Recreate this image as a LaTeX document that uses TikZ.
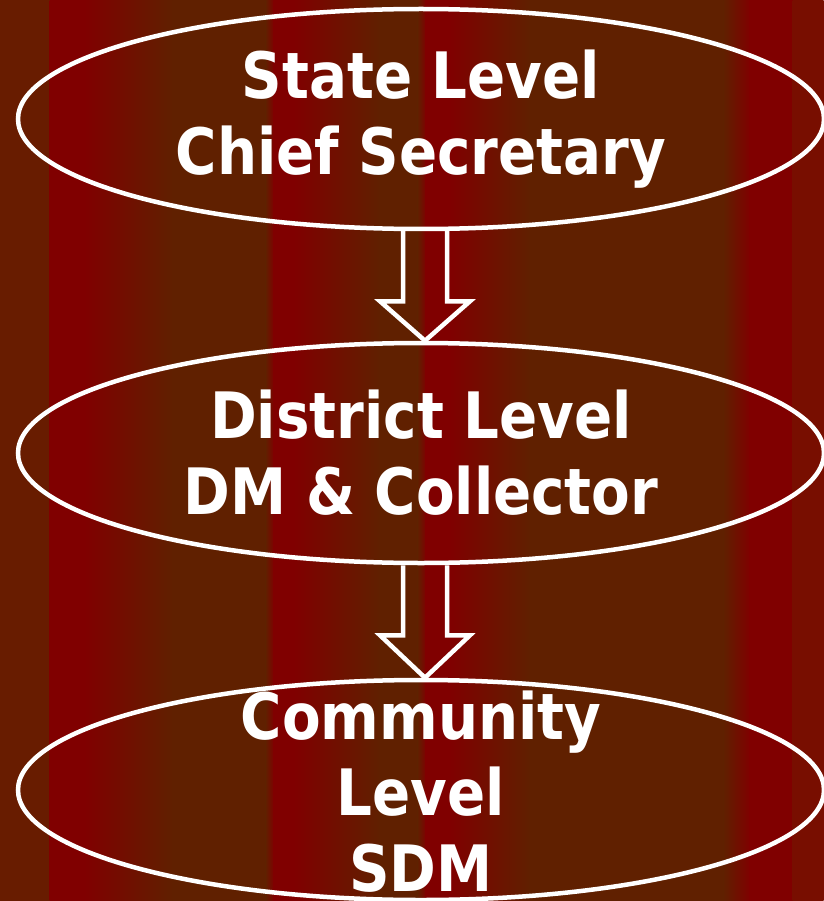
\documentclass[tikz,border=0pt]{standalone}
\usepackage{fontspec}
\setmainfont{DejaVu Sans}[FakeStretch=0.88]
\usetikzlibrary{shapes.geometric,calc}

\definecolor{bgred}{RGB}{128,0,0}
\definecolor{bgbrown}{RGB}{96,32,0}
\definecolor{bgleft}{RGB}{104,28,0}
\definecolor{bgright}{RGB}{120,14,0}

\tikzset{
  level/.style={ellipse, draw=white, line width=4.5pt, inner sep=0pt,
    minimum width=806pt, minimum height=220pt},
  leveltext/.style={text=white, align=center, inner sep=0pt,
    font=\bfseries\fontsize{64}{76}\selectfont},
  hollowarrow/.style={draw=white, line width=4.5pt, line join=miter}
}

\begin{document}
\begin{tikzpicture}[x=1pt, y=-1pt]
    \useasboundingbox (0,0) rectangle (823,901);
    % striped background
    \foreach \xa/\xb/\ca/\cb in {0/50/bgleft/bgleft, 50/85/bgred/bgred,
      85/173/bgred/bgbrown, 173/266/bgbrown/bgbrown, 266/274/bgbrown/bgred,
      274/294/bgred/bgred, 294/380/bgred/bgbrown, 380/418/bgbrown/bgbrown,
      418/426/bgbrown/bgred, 426/450/bgred/bgred, 450/530/bgred/bgbrown,
      530/724/bgbrown/bgbrown, 724/750/bgbrown/bgred, 750/793/bgred/bgred,
      793/823/bgright/bgright} {
      \shade[left color=\ca, right color=\cb] (\xa-0.5,0) rectangle (\xb+0.5,901);
    }

    \node[level] (state) at (421,119) {};
    \node[level] (district) at (421,453) {};
    \node[level] (community) at (421,790) {};

    \node[leveltext] (statetext) at (state) {State Level\\Chief Secretary};
    \node[leveltext] (districttext) at (district) {District Level\\DM \& Collector};
    \node[leveltext] (communitytext) at ([yshift=-2pt]community) {Community\\Level\\SDM};

    \draw[hollowarrow] ($(state.south)+(-18,0)$) -- ($(state.south)+(-18,70)$)
      -- ($(state.south)+(-41,70)$) -- ($(district.north)+(4,0)$)
      -- ($(state.south)+(49,70)$) -- ($(state.south)+(26,70)$)
      -- ($(state.south)+(26,0)$);
    \draw[hollowarrow] ($(district.south)+(-18,0)$) -- ($(district.south)+(-18,70)$)
      -- ($(district.south)+(-41,70)$) -- ($(community.north)+(4,0)$)
      -- ($(district.south)+(49,70)$) -- ($(district.south)+(26,70)$)
      -- ($(district.south)+(26,0)$);
\end{tikzpicture}
\end{document}
